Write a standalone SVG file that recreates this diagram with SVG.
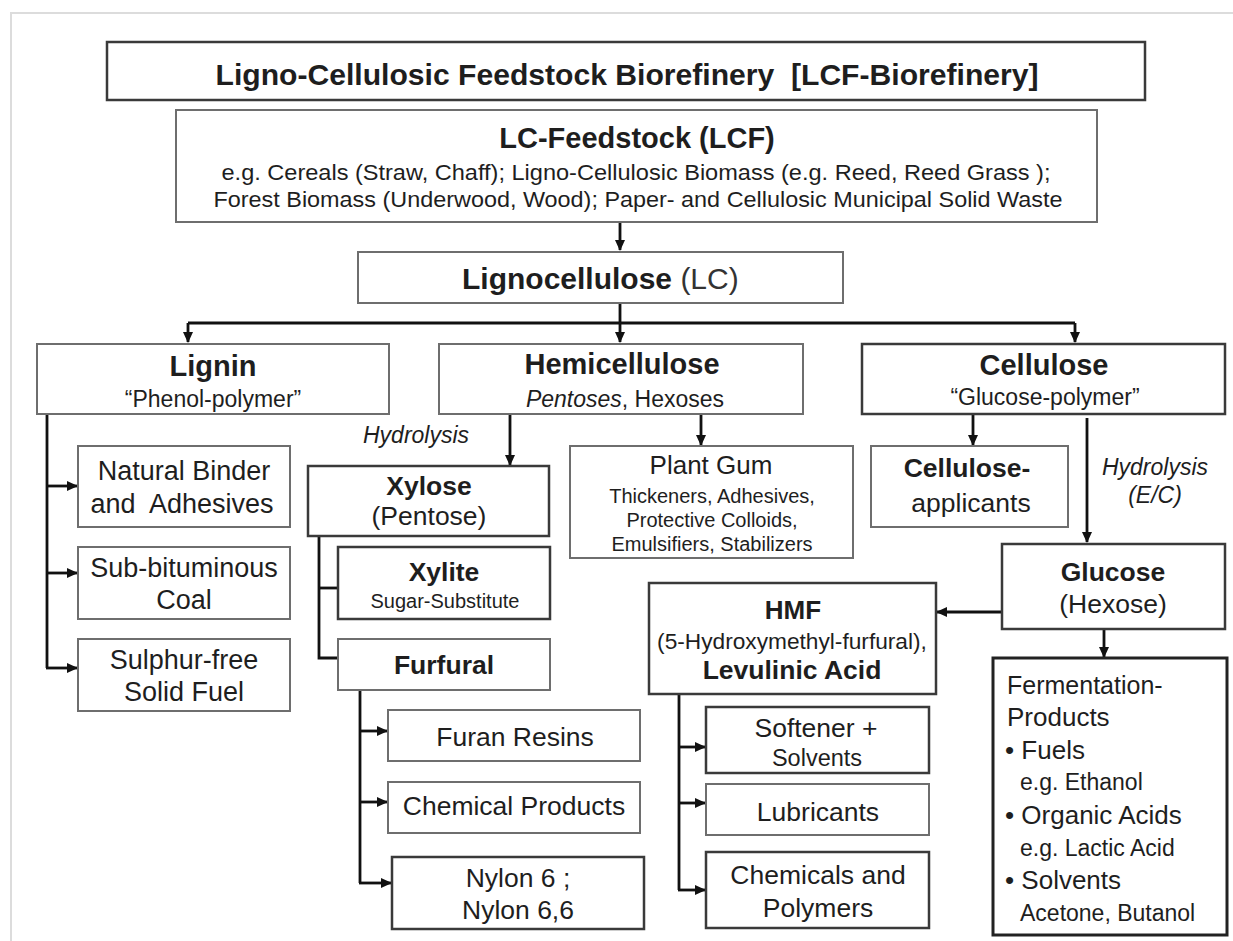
<svg xmlns="http://www.w3.org/2000/svg" width="1233" height="941" viewBox="0 0 1233 941">
<defs>
<marker id="ah" markerUnits="userSpaceOnUse" markerWidth="11" markerHeight="10" refX="10" refY="5" orient="auto">
<path d="M0,0 L11,5 L0,10 z" fill="#111"/>
</marker>
<style>
.bx{fill:#fff;stroke:#6e6e6e;stroke-width:2}
.bd{fill:#fff;stroke:#3a3a3a;stroke-width:2.5}
.t{font-family:"Liberation Sans",Arial,Helvetica,sans-serif;fill:#1e1e1e}
.m{text-anchor:middle}
.b{font-weight:bold}
.i{font-style:italic}
.c{fill:none;stroke:#111;stroke-width:2.8}
.ca{fill:none;stroke:#111;stroke-width:2.8;marker-end:url(#ah)}
</style>
</defs>
<rect width="1233" height="941" fill="#fff"/>
<path d="M11,941 V13 H1233" fill="none" stroke="#dcdcdc" stroke-width="2"/>

<g id="connectors">
<path class="ca" d="M620,222 V250"/>
<path class="ca" d="M620,303 V342"/>
<path class="c" d="M188,323 H1075"/>
<path class="ca" d="M188,323 V342"/>
<path class="ca" d="M1075,323 V342"/>
<path class="c" d="M47,414 V668"/>
<path class="ca" d="M47,486 H77"/>
<path class="ca" d="M47,573 H77"/>
<path class="ca" d="M46,668 H77"/>
<path class="ca" d="M510,414 V465"/>
<path class="ca" d="M701,414 V445"/>
<path class="ca" d="M973,414 V445"/>
<path class="ca" d="M1087,418 V542"/>
<path class="c" d="M319,536 V658 H338"/>
<path class="c" d="M319,588 H338"/>
<path class="c" d="M360,690 V883"/>
<path class="ca" d="M360,731 H387"/>
<path class="ca" d="M360,802 H387"/>
<path class="ca" d="M359,883 H391"/>
<path class="ca" d="M1002,612 H937"/>
<path class="ca" d="M1104,629 V657"/>
<path class="c" d="M679,694 V890"/>
<path class="ca" d="M679,747 H705"/>
<path class="ca" d="M679,803 H705"/>
<path class="ca" d="M678,890 H705"/>
</g>

<g id="title">
<rect class="bd" x="107" y="42" width="1038" height="58"/>
<text class="t b m" x="627" y="85" font-size="30" textLength="823" lengthAdjust="spacingAndGlyphs" xml:space="preserve">Ligno-Cellulosic Feedstock Biorefinery  [LCF-Biorefinery]</text>
</g>

<g id="lcf">
<rect class="bx" x="176" y="110" width="921" height="112"/>
<text class="t b m" x="637" y="148" font-size="29">LC-Feedstock (LCF)</text>
<text class="t m" x="636" y="180" font-size="22" textLength="829" lengthAdjust="spacingAndGlyphs">e.g. Cereals (Straw, Chaff); Ligno-Cellulosic Biomass (e.g. Reed, Reed Grass );</text>
<text class="t m" x="638" y="207" font-size="22" textLength="849" lengthAdjust="spacingAndGlyphs">Forest Biomass (Underwood, Wood); Paper- and Cellulosic Municipal Solid Waste</text>
</g>

<g id="lignocellulose">
<rect class="bx" x="358" y="252" width="485" height="51"/>
<text class="t" x="462" y="289" font-size="30"><tspan class="b">Lignocellulose</tspan> <tspan fill="#333">(LC)</tspan></text>
</g>

<g id="lignin">
<rect class="bx" x="37" y="344" width="352" height="70"/>
<text class="t b m" x="213" y="376" font-size="29">Lignin</text>
<text class="t m" x="213" y="407" font-size="23">“Phenol-polymer”</text>
</g>

<g id="hemicellulose">
<rect class="bx" x="439" y="344" width="364" height="70"/>
<text class="t b m" x="622" y="374" font-size="29">Hemicellulose</text>
<text class="t m" x="625" y="407" font-size="23"><tspan class="i">Pentoses</tspan>, Hexoses</text>
</g>

<g id="cellulose">
<rect class="bd" x="862" y="344" width="363" height="70"/>
<text class="t b m" x="1044" y="375" font-size="29">Cellulose</text>
<text class="t m" x="1045" y="405" font-size="23">“Glucose-polymer”</text>
</g>

<g id="hydrolysis-labels">
<text class="t i" x="363" y="443" font-size="23" fill="#333">Hydrolysis</text>
<text class="t i m" x="1155" y="475" font-size="23">Hydrolysis</text>
<text class="t i m" x="1155" y="503" font-size="23">(E/C)</text>
</g>

<g id="natural-binder">
<rect class="bx" x="78" y="446" width="212" height="81"/>
<text class="t m" x="184" y="480" font-size="27">Natural Binder</text>
<text class="t m" x="182" y="513" font-size="27" xml:space="preserve">and  Adhesives</text>
</g>

<g id="sub-bituminous">
<rect class="bx" x="78" y="547" width="212" height="72"/>
<text class="t m" x="184" y="577" font-size="27">Sub-bituminous</text>
<text class="t m" x="184" y="609" font-size="27">Coal</text>
</g>

<g id="sulphur-free">
<rect class="bx" x="78" y="639" width="212" height="72"/>
<text class="t m" x="184" y="669" font-size="27">Sulphur-free</text>
<text class="t m" x="184" y="701" font-size="27">Solid Fuel</text>
</g>

<g id="xylose">
<rect class="bd" x="308" y="466" width="241" height="70"/>
<text class="t b m" x="429" y="495" font-size="26.5">Xylose</text>
<text class="t m" x="429" y="525" font-size="26.5">(Pentose)</text>
</g>

<g id="plant-gum">
<rect class="bx" x="570" y="446" width="283" height="112"/>
<text class="t m" x="711" y="474" font-size="26">Plant Gum</text>
<text class="t m" x="712" y="503" font-size="20">Thickeners, Adhesives,</text>
<text class="t m" x="712" y="527" font-size="20">Protective Colloids,</text>
<text class="t m" x="712" y="551" font-size="20">Emulsifiers, Stabilizers</text>
</g>

<g id="cellulose-applicants">
<rect class="bx" x="871" y="446" width="197" height="81"/>
<text class="t b m" x="967" y="477" font-size="26.5">Cellulose-</text>
<text class="t m" x="971" y="512" font-size="26.5">applicants</text>
</g>

<g id="xylite">
<rect class="bd" x="338" y="547" width="212" height="72"/>
<text class="t b m" x="444" y="581" font-size="26.5">Xylite</text>
<text class="t m" x="445" y="608" font-size="20">Sugar-Substitute</text>
</g>

<g id="furfural">
<rect class="bx" x="338" y="639" width="212" height="51"/>
<text class="t b m" x="444" y="674" font-size="26.5">Furfural</text>
</g>

<g id="glucose">
<rect class="bd" x="1002" y="544" width="223" height="85"/>
<text class="t b m" x="1113" y="581" font-size="26.5">Glucose</text>
<text class="t m" x="1113" y="613" font-size="26.5">(Hexose)</text>
</g>

<g id="hmf">
<rect class="bd" x="649" y="583" width="287" height="111"/>
<text class="t b m" x="793" y="619" font-size="26">HMF</text>
<text class="t m" x="792" y="649" font-size="22.7">(5-Hydroxymethyl-furfural),</text>
<text class="t b m" x="792" y="679" font-size="26.5">Levulinic Acid</text>
</g>

<g id="furan-resins">
<rect class="bx" x="388" y="710" width="252" height="51"/>
<text class="t m" x="515" y="746" font-size="26.5">Furan Resins</text>
</g>

<g id="chemical-products">
<rect class="bx" x="388" y="782" width="252" height="51"/>
<text class="t m" x="514" y="815" font-size="26.5">Chemical Products</text>
</g>

<g id="nylon">
<rect class="bd" x="392" y="857" width="252" height="72"/>
<text class="t m" x="518" y="887" font-size="26.5">Nylon 6 ;</text>
<text class="t m" x="518" y="919" font-size="26.5">Nylon 6,6</text>
</g>

<g id="softener">
<rect class="bd" x="706" y="707" width="223" height="66"/>
<text class="t m" x="816" y="737" font-size="26.5">Softener +</text>
<text class="t m" x="817" y="766" font-size="23.5">Solvents</text>
</g>

<g id="lubricants">
<rect class="bx" x="706" y="784" width="223" height="51"/>
<text class="t m" x="818" y="821" font-size="26.5">Lubricants</text>
</g>

<g id="chemicals-polymers">
<rect class="bd" x="706" y="852" width="223" height="76"/>
<text class="t m" x="818" y="884" font-size="26.5">Chemicals and</text>
<text class="t m" x="818" y="917" font-size="26.5">Polymers</text>
</g>

<g id="fermentation">
<rect x="993" y="658" width="234" height="277" fill="#fff" stroke="#222" stroke-width="3"/>
<text class="t" x="1007" y="694" font-size="25">Fermentation-</text>
<text class="t" x="1007" y="726" font-size="26">Products</text>
<text class="t" x="1005" y="759" font-size="26">• Fuels</text>
<text class="t" x="1020" y="790" font-size="23">e.g. Ethanol</text>
<text class="t" x="1005" y="824" font-size="26">• Organic Acids</text>
<text class="t" x="1020" y="856" font-size="23">e.g. Lactic Acid</text>
<text class="t" x="1005" y="889" font-size="26">• Solvents</text>
<text class="t" x="1020" y="921" font-size="23">Acetone, Butanol</text>
</g>
</svg>
